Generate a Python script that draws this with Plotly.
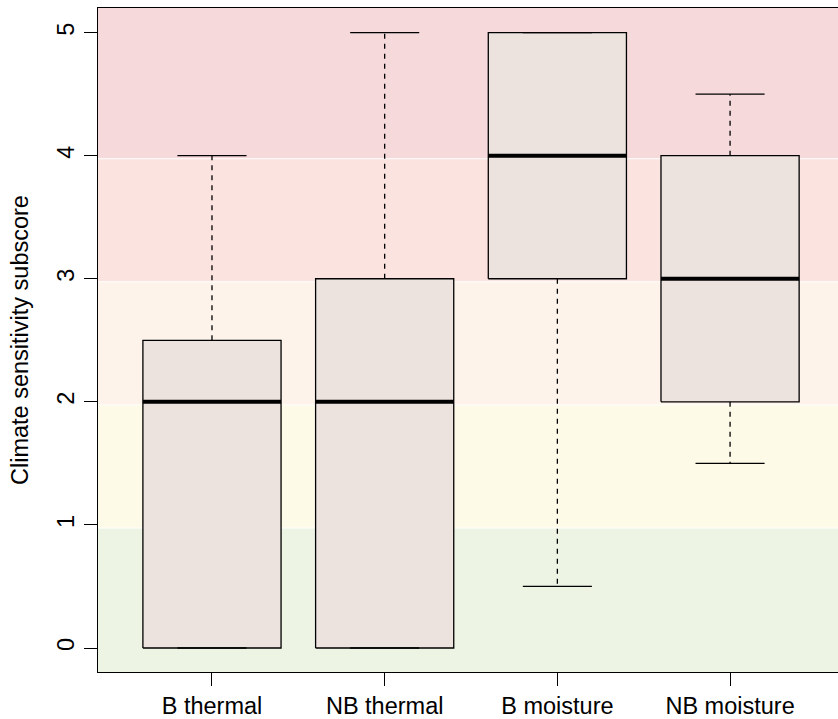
import plotly.graph_objects as go

# ---- data ----
categories = ["B thermal", "NB thermal", "B moisture", "NB moisture"]
whisker_low = [0, 0, 0.5, 1.5]
q1 = [0, 0, 3, 2]
median = [2, 2, 4, 3]
q3 = [2.5, 3, 5, 4]
whisker_high = [4, 5, 5, 4.5]

y_ticks = [0, 1, 2, 3, 4, 5]
band_edges = [-0.3, 0.975, 1.975, 2.975, 3.975, 5.4]
band_colors = ["#EEF4E4", "#FEFAE8", "#FDF3EA", "#FBE3DF", "#F5D9DB"]

box_fill = "#EDE3DE"
box_half = 0.4
cap_half = 0.2
FONT = "Liberation Sans, Arial, Helvetica, sans-serif"

fig = go.Figure()

positions = list(range(1, len(categories) + 1))
for i, xc in enumerate(positions):
    # box
    fig.add_trace(go.Scatter(
        x=[xc - box_half, xc + box_half, xc + box_half, xc - box_half, xc - box_half],
        y=[q1[i], q1[i], q3[i], q3[i], q1[i]],
        mode="lines", fill="toself", fillcolor=box_fill,
        line=dict(color="black", width=1.3), hoverinfo="skip", showlegend=False))
    # whiskers (dashed)
    for a, b in ((q3[i], whisker_high[i]), (q1[i], whisker_low[i])):
        if a != b:
            fig.add_trace(go.Scatter(
                x=[xc, xc], y=[a, b], mode="lines",
                line=dict(color="black", width=1.3, dash="5px,5px"),
                hoverinfo="skip", showlegend=False))
    # caps
    for v in (whisker_high[i], whisker_low[i]):
        fig.add_trace(go.Scatter(
            x=[xc - cap_half, xc + cap_half], y=[v, v], mode="lines",
            line=dict(color="black", width=1.3),
            hoverinfo="skip", showlegend=False))
    # median
    fig.add_trace(go.Scatter(
        x=[xc - box_half, xc + box_half], y=[median[i], median[i]], mode="lines",
        line=dict(color="black", width=4),
        hoverinfo="skip", showlegend=False))

shapes = []
for j, c in enumerate(band_colors):
    shapes.append(dict(type="rect", xref="paper", yref="y", x0=0, x1=1,
                       y0=band_edges[j], y1=band_edges[j + 1],
                       fillcolor=c, line=dict(width=0), layer="below"))
for e in band_edges[1:-1]:
    shapes.append(dict(type="line", xref="paper", yref="y", x0=0, x1=1,
                       y0=e, y1=e, line=dict(color="white", width=1), layer="below"))

fig.update_layout(
    width=838, height=719,
    margin=dict(l=98, r=0, t=8, b=44, pad=0),
    paper_bgcolor="white", plot_bgcolor="white",
    font=dict(family=FONT, size=23.5, color="black"),
    shapes=shapes,
    xaxis=dict(range=[0.34, 4.625], tickvals=positions, ticktext=categories,
               showline=True, linecolor="black", linewidth=1.3, mirror=True,
               ticks="outside", ticklen=13, tickwidth=1.3, tickcolor="black",
               showgrid=False, zeroline=False, tickfont=dict(size=23.5)),
    yaxis=dict(range=[-0.195, 5.2], tickvals=y_ticks, ticktext=[str(t) for t in y_ticks],
               showline=True, linecolor="black", linewidth=1.3,
               ticks="outside", ticklen=13, tickwidth=1.3, tickcolor="black",
               tickangle=-90, showgrid=False, zeroline=False, tickfont=dict(size=23.5)),
    annotations=[dict(text="Climate sensitivity subscore", xref="paper", yref="paper",
                      x=0, y=0.5, xanchor="center", yanchor="middle", xshift=-78,
                      textangle=-90, showarrow=False, font=dict(size=23.5))],
)

fig.write_html("out.html")
